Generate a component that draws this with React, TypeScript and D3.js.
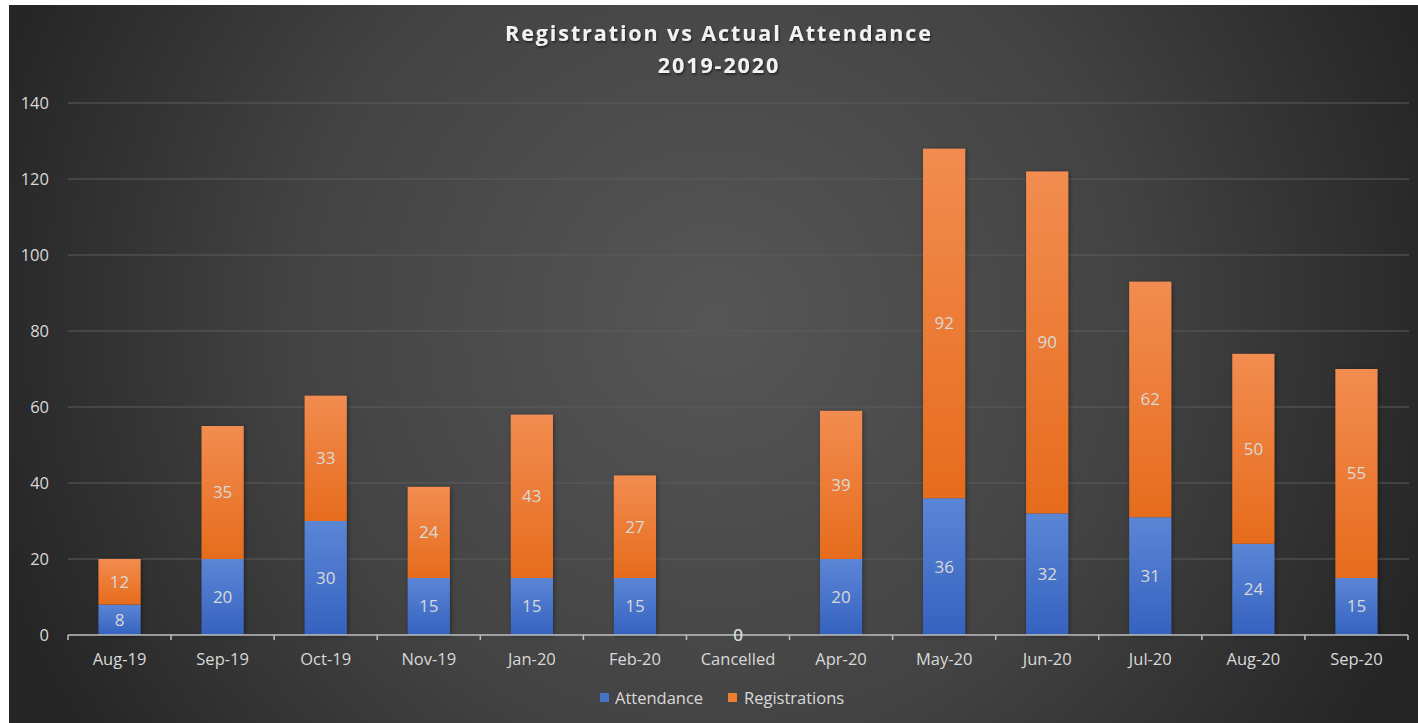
import React from "react";
import * as d3 from "d3";

const categories = ["Aug-19","Sep-19","Oct-19","Nov-19","Jan-20","Feb-20","Cancelled","Apr-20","May-20","Jun-20","Jul-20","Aug-20","Sep-20"];
const attendance = [8,20,30,15,15,15,0,20,36,32,31,24,15];
const registrations = [12,35,33,24,43,27,0,39,92,90,62,50,55];
const yTicks = [0,20,40,60,80,100,120,140];
const seriesNames = ["Attendance","Registrations"];

const W = 1418, H = 723;
const FONT = "'Open Sans', 'Noto Sans', sans-serif";
const TXT = "#d9d9d9";

export default function App() {
  const x = d3.scaleBand<string>().domain(categories).range([68, 1408]).paddingInner(0.59).paddingOuter(0.295);
  const y = d3.scaleLinear().domain([0, 140]).range([635, 103]);
  const bw = x.bandwidth();
  const step = x.step();
  const stack = d3.stack<number>().keys(["a","r"]).value((i, k) => k === "a" ? attendance[i] : registrations[i]);
  const series = stack(d3.range(categories.length));
  const fills = ["url(#gBlue)","url(#gOrange)"];
  const top = series[series.length - 1];
  return (
    <svg width={W} height={H} style={{position:"absolute",left:0,top:0,display:"block"}} fontFamily={FONT}>
      <defs>
        <radialGradient id="bg" gradientUnits="userSpaceOnUse" cx={714} cy={320} r={760}>
          <stop offset="0" stopColor="#565656"/>
          <stop offset="0.55" stopColor="#434343"/>
          <stop offset="1" stopColor="#252525"/>
        </radialGradient>
        <linearGradient id="gBlue" x1="0" y1="0" x2="0" y2="1">
          <stop offset="0" stopColor="#5b86d6"/>
          <stop offset="1" stopColor="#3562bf"/>
        </linearGradient>
        <linearGradient id="gOrange" x1="0" y1="0" x2="0" y2="1">
          <stop offset="0" stopColor="#f28c50"/>
          <stop offset="1" stopColor="#e66c1c"/>
        </linearGradient>
        <filter id="shadow" x="-20%" y="-20%" width="140%" height="140%">
          <feGaussianBlur stdDeviation="2"/>
        </filter>
        <filter id="tshadow" x="-10%" y="-30%" width="120%" height="160%">
          <feDropShadow dx="1" dy="1.5" stdDeviation="1.2" floodColor="#000" floodOpacity="0.6"/>
        </filter>
      </defs>
      <rect x={0} y={0} width={W} height={H} fill="#ffffff"/>
      <rect x={9} y={5} width={W-9} height={H-5} fill="url(#bg)"/>
      <g filter="url(#tshadow)" fill="#f2f2f2" fontWeight="bold" fontSize={21.5} textAnchor="middle" letterSpacing={1.9}>
        <text x={719} y={41}>Registration vs Actual Attendance</text>
        <text x={719} y={73}>2019-2020</text>
      </g>
      {yTicks.map(t => (
        <g key={t}>
          {t > 0 && <line x1={68} x2={1409} y1={y(t)} y2={y(t)} stroke="#5c5c5c" strokeWidth={1}/>}
          <text x={49} y={y(t)} dy="0.35em" textAnchor="end" fill={TXT} fontSize={16.5}>{t}</text>
        </g>
      ))}
      <g filter="url(#shadow)" fill="#000" opacity={0.4}>
        {top.map((d, i) => d[1] > 0 ? (
          <rect key={i} x={x(categories[i])! + 1} y={y(d[1]) + 1} width={bw} height={y(0) - y(d[1])}/>
        ) : null)}
      </g>
      {series.map((s, si) => (
        <g key={si}>
          {s.map((d, i) => (
            d[1] - d[0] > 0 ? (
              <rect key={i} x={x(categories[i])!} y={y(d[1])} width={bw} height={y(d[0]) - y(d[1])} fill={fills[si]}/>
            ) : null
          ))}
        </g>
      ))}
      <line x1={68} x2={1408} y1={635} y2={635} stroke="#bfbfbf" strokeWidth={1.5}/>
      {d3.range(categories.length + 1).map(i => (
        <line key={i} x1={68 + i*step} x2={68 + i*step} y1={635} y2={640} stroke="#bfbfbf" strokeWidth={1.5}/>
      ))}
      {series.map((s, si) => (
        <g key={"l"+si}>
          {s.map((d, i) => (
            <text key={i} x={x(categories[i])! + bw/2} y={(y(d[0]) + y(d[1]))/2} dy="0.35em" textAnchor="middle" fill={TXT} fontSize={17}>{d[1]-d[0]}</text>
          ))}
        </g>
      ))}
      {categories.map(c => (
        <text key={c} x={x(c)! + bw/2} y={659} dy="0.35em" textAnchor="middle" fill={TXT} fontSize={16.5}>{c}</text>
      ))}
      <g fontSize={16.5} fill={TXT}>
        <rect x={600} y={693} width={9} height={9} fill="#4472c4"/>
        <text x={615} y={698} dy="0.35em">{seriesNames[0]}</text>
        <rect x={728} y={693} width={9} height={9} fill="#ed7d31"/>
        <text x={744} y={698} dy="0.35em">{seriesNames[1]}</text>
      </g>
    </svg>
  );
}
